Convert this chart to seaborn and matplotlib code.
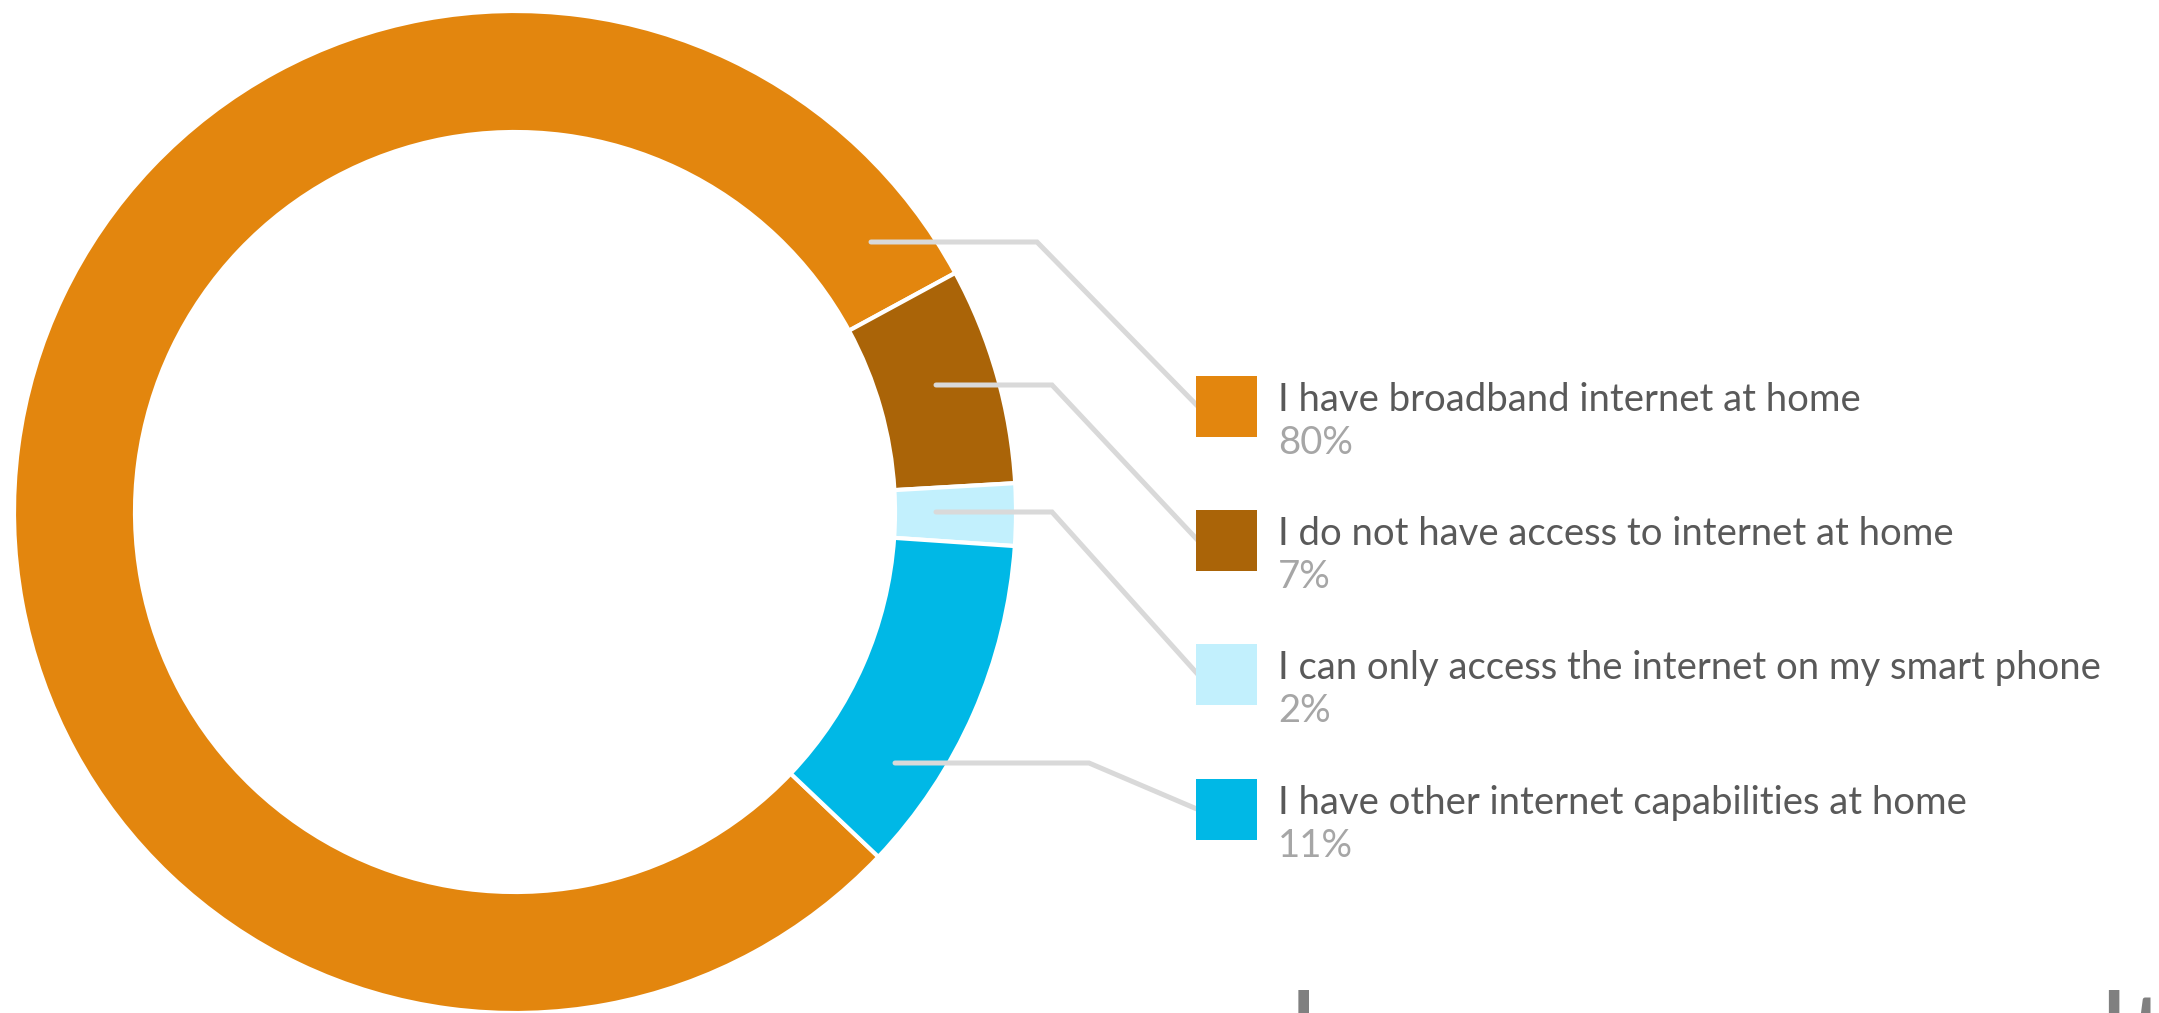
import matplotlib
matplotlib.use("Agg")
import matplotlib.pyplot as plt
import seaborn as sns

# Data
labels = [
    "I have broadband internet at home",
    "I do not have access to internet at home",
    "I can only access the internet on my smart phone",
    "I have other internet capabilities at home",
]
shares = [80, 7, 2, 11]
colors = ["#E3860E", "#AA6408", "#C2F0FD", "#00B8E6"]
footer = "key survey results"

W, H = 2159, 1013

sns.set_theme(style="white")
plt.rcParams["font.family"] = ["Lato", "DejaVu Sans"]

fig = plt.figure(figsize=(W / 100, H / 100), dpi=100)
ax = fig.add_axes([0, 0, 1, 1])


def py(y):
    # pixel row (from top) -> axes y
    return H - y


# donut
ax.pie(shares, colors=colors, startangle=316.5, counterclock=False,
       radius=501, center=(515, py(512)),
       wedgeprops=dict(width=121, edgecolor="white", linewidth=3))
ax.set_xlim(0, W)
ax.set_ylim(0, H)
ax.set_aspect("auto")
ax.axis("off")

# leader lines + legend entries
anchors = [(871, 242), (936, 385), (936, 512), (895, 763)]
elbows = [(1037, 242), (1052, 385), (1052, 512), (1089, 763)]
box_tops = [376, 510, 644, 779]
box_x, box_s = 1196, 61

for lab, val, col, a, e, top in zip(labels, shares, colors, anchors, elbows, box_tops):
    mid = top + box_s / 2
    ax.plot([a[0], e[0], box_x + 2], [py(a[1]), py(e[1]), py(mid)],
            color="#D9D9D9", lw=3.6, solid_joinstyle="miter", zorder=3)
    ax.add_patch(plt.Rectangle((box_x, py(top + box_s)), box_s, box_s,
                               color=col, lw=0, zorder=4))
    ax.text(1278, py(top + 35), lab, fontsize=27.5, color="#595959",
            va="baseline", ha="left")
    ax.text(1278, py(top + 78), f"{val}%", fontsize=27.5, color="#A6A6A6",
            va="baseline", ha="left")

# clipped footer title at the bottom edge
ax.text(1290, py(1077), footer, fontsize=85, color="#808080",
        va="baseline", ha="left", clip_on=False)

fig.savefig("out.png", dpi=100, facecolor="white")
